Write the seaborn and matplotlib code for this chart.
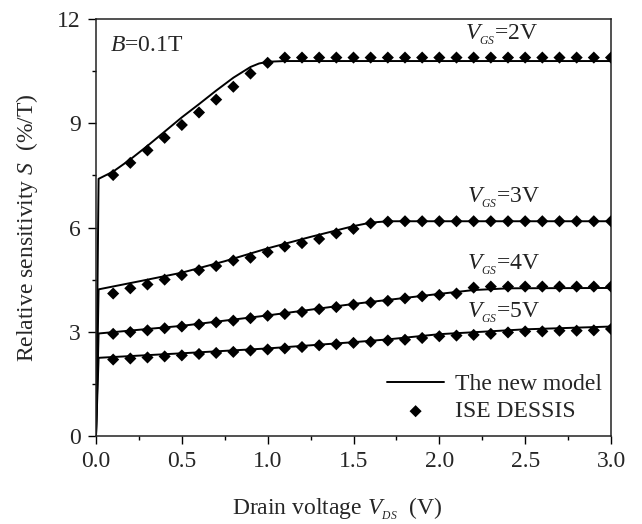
import matplotlib
matplotlib.use("Agg")
import matplotlib.pyplot as plt
import seaborn as sns
import pandas as pd
from matplotlib.ticker import MultipleLocator

# ---------------- data ----------------
vds_sim = [0.1, 0.2, 0.3, 0.4, 0.5, 0.6, 0.7, 0.8, 0.9, 1.0,
           1.1, 1.2, 1.3, 1.4, 1.5, 1.6, 1.7, 1.8, 1.9, 2.0,
           2.1, 2.2, 2.3, 2.4, 2.5, 2.6, 2.7, 2.8, 2.9, 3.0]
s_sim_vgs2 = [7.51, 7.86, 8.22, 8.58, 8.95, 9.31, 9.68, 10.05, 10.43, 10.74,
              10.89, 10.89, 10.89, 10.89, 10.89, 10.89, 10.89, 10.89, 10.89, 10.89,
              10.89, 10.89, 10.89, 10.89, 10.89, 10.89, 10.89, 10.89, 10.89, 10.89]
s_sim_vgs3 = [4.10, 4.25, 4.36, 4.50, 4.63, 4.77, 4.89, 5.05, 5.13, 5.29,
              5.45, 5.55, 5.67, 5.83, 5.96, 6.12, 6.17, 6.18, 6.18, 6.18,
              6.18, 6.18, 6.18, 6.18, 6.18, 6.18, 6.18, 6.18, 6.18, 6.18]
s_sim_vgs4 = [2.94, 2.99, 3.04, 3.10, 3.15, 3.21, 3.27, 3.32, 3.39, 3.46,
              3.51, 3.57, 3.65, 3.71, 3.78, 3.84, 3.89, 3.96, 4.02, 4.06,
              4.10, 4.27, 4.30, 4.30, 4.30, 4.30, 4.30, 4.30, 4.30, 4.30]
s_sim_vgs5 = [2.20, 2.23, 2.26, 2.29, 2.32, 2.36, 2.39, 2.42, 2.46, 2.49,
              2.52, 2.56, 2.61, 2.64, 2.68, 2.71, 2.75, 2.77, 2.82, 2.87,
              2.89, 2.91, 2.94, 2.98, 3.01, 3.01, 3.03, 3.03, 3.04, 3.08]

vds_model_vgs2 = [0.0, 0.015, 0.1, 0.2, 0.3, 0.4, 0.5, 0.6, 0.7, 0.8, 0.9, 0.95, 1.0, 1.1, 3.0]
s_model_vgs2 = [0.0, 7.40, 7.61, 7.96, 8.35, 8.76, 9.17, 9.55, 9.94, 10.31, 10.62, 10.72, 10.77, 10.79, 10.79]
vds_model_vgs3 = [0.0, 0.015, 0.25, 0.5, 0.75, 1.0, 1.25, 1.5, 1.6, 1.7, 3.0]
s_model_vgs3 = [0.0, 4.22, 4.45, 4.70, 5.03, 5.40, 5.73, 6.04, 6.14, 6.18, 6.18]
vds_model_vgs4 = [0.0, 0.015, 0.5, 1.0, 1.5, 2.0, 2.2, 2.4, 3.0]
s_model_vgs4 = [0.0, 2.95, 3.17, 3.47, 3.80, 4.09, 4.20, 4.25, 4.26]
vds_model_vgs5 = [0.0, 0.015, 0.5, 1.0, 1.5, 1.7, 2.0, 2.5, 3.0]
s_model_vgs5 = [0.0, 2.25, 2.38, 2.52, 2.70, 2.78, 2.93, 3.07, 3.15]

vgs_labels = ["$V_{{}_{GS}}$=2V", "$V_{{}_{GS}}$=3V", "$V_{{}_{GS}}$=4V", "$V_{{}_{GS}}$=5V"]
label_pos = [(2.15, 11.54), (2.16, 6.85), (2.16, 4.92), (2.16, 3.54)]

# ---------------- style ----------------
sns.set_theme(style="ticks")
plt.rcParams["font.family"] = ["Liberation Serif", "DejaVu Serif"]
plt.rcParams["mathtext.fontset"] = "custom"
plt.rcParams["mathtext.rm"] = "Liberation Serif"
plt.rcParams["mathtext.it"] = "Liberation Serif:italic"
plt.rcParams["mathtext.default"] = "it"
FS = 17

fig = plt.figure(figsize=(6.42, 5.24), dpi=100)
ax = fig.add_axes([96 / 642, 1 - 436 / 524, (611 - 96) / 642, (436 - 19) / 524])

model = [(vds_model_vgs2, s_model_vgs2), (vds_model_vgs3, s_model_vgs3),
         (vds_model_vgs4, s_model_vgs4), (vds_model_vgs5, s_model_vgs5)]
sims = [s_sim_vgs2, s_sim_vgs3, s_sim_vgs4, s_sim_vgs5]

for i, (xm, ym) in enumerate(model):
    df = pd.DataFrame({"x": xm, "y": ym})
    sns.lineplot(data=df, x="x", y="y", ax=ax, color="black", lw=1.4,
                 sort=False, estimator=None,
                 label="The new model" if i == 0 else None, legend=False)

for i, ys in enumerate(sims):
    df = pd.DataFrame({"x": vds_sim, "y": ys})
    sns.scatterplot(data=df, x="x", y="y", ax=ax, color="black", marker="D",
                    s=38, edgecolor="none",
                    label="ISE DESSIS" if i == 0 else None, legend=False, zorder=3)

for lab, (tx, ty) in zip(vgs_labels, label_pos):
    ax.text(tx, ty, lab, fontsize=FS, ha="left", va="center", color="#222222")
ax.text(0.08, 11.25, "$B$=0.1T", fontsize=FS, ha="left", va="center")

ax.set_xlim(0, 3.0)
ax.set_ylim(0, 12)
ax.xaxis.set_major_locator(MultipleLocator(0.5))
ax.xaxis.set_minor_locator(MultipleLocator(0.25))
ax.yaxis.set_major_locator(MultipleLocator(3))
ax.yaxis.set_minor_locator(MultipleLocator(1.5))
ax.set_xticks([0.0, 0.5, 1.0, 1.5, 2.0, 2.5, 3.0])
ax.set_xticklabels(["0.0", "0.5", "1.0", "1.5", "2.0", "2.5", "3.0"])
ax.tick_params(axis="both", which="major", direction="out", length=6, width=1,
               labelsize=FS, color="black", pad=5)
ax.tick_params(axis="both", which="minor", direction="out", length=3, width=1, color="black")
for sp in ax.spines.values():
    sp.set_visible(True)
    sp.set_linewidth(1.1)
    sp.set_color("#222222")

ax.set_xlabel("Drain voltage $V_{{}_{DS}}$  (V)", fontsize=FS)
ax.set_ylabel("Relative sensitivity $S$  (%/T)", fontsize=FS)
ax.xaxis.set_label_coords((337 - 96) / 515, -0.143)
ax.yaxis.set_label_coords(-0.108, 0.5)

handles, labels = ax.get_legend_handles_labels()
ax.legend(handles, labels, loc="lower right", frameon=False, fontsize=FS,
          handlelength=2.4, handletextpad=0.45, borderaxespad=0.0,
          labelspacing=0.25, bbox_to_anchor=(1.0, 0.01))

fig.savefig("out.png", dpi=100)
